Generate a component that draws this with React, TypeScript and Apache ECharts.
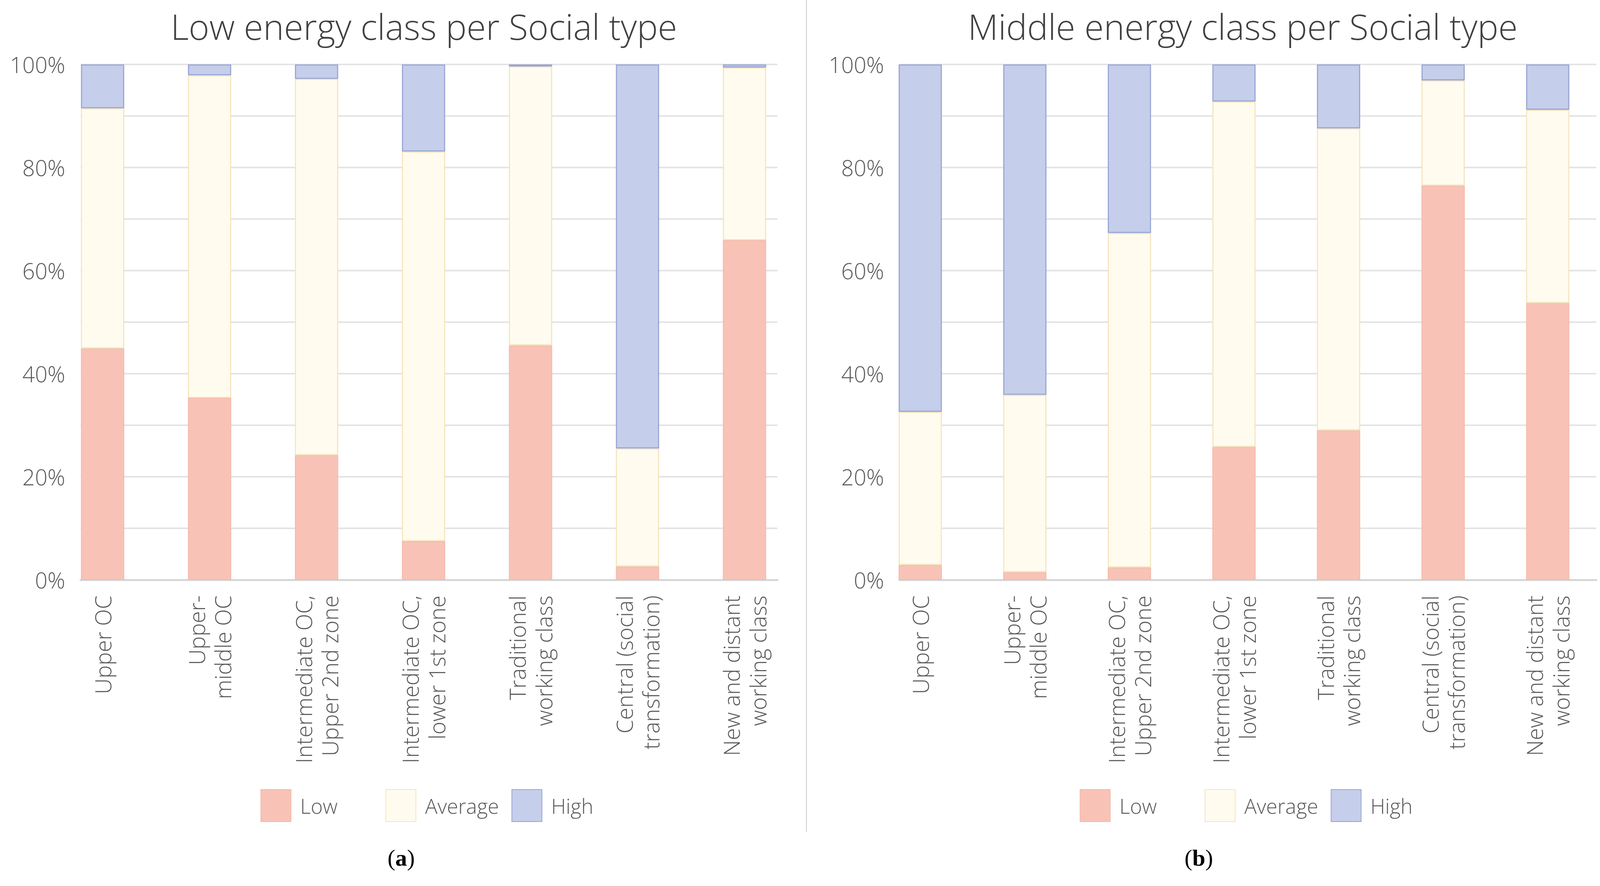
import React, { useEffect, useRef } from "react";
import * as echarts from "echarts";

const categories = [
  "Upper OC",
  "Upper-\nmiddle OC",
  "Intermediate OC,\nUpper 2nd zone",
  "Intermediate OC,\nlower 1st zone",
  "Traditional\nworking class",
  "Central (social\ntransformation)",
  "New and distant\nworking class",
];

const seriesNames = ["Low", "Average", "High"];

const lowA = [44.9, 35.3, 24.2, 7.5, 45.5, 2.6, 65.9];
const avgA = [46.6, 62.6, 73.0, 75.6, 54.1, 22.9, 33.5];
const highA = [8.5, 2.1, 2.8, 16.9, 0.4, 74.5, 0.6];

const lowB = [2.9, 1.5, 2.4, 25.8, 29.0, 76.5, 53.7];
const avgB = [29.7, 34.4, 64.9, 67.0, 58.6, 20.4, 37.5];
const highB = [67.4, 64.1, 32.7, 7.2, 12.4, 3.1, 8.8];

const titles = ["Low energy class per Social type", "Middle energy class per Social type"];
const captions = ["a", "b"];
const yTicks = [0, 20, 40, 60, 80, 100];

const W = 4367;
const H = 2269;
const FONT = "'Open Sans', 'Noto Sans', sans-serif";
const SERIF = "'Liberation Serif', 'DejaVu Serif', serif";
const LABEL = "#595959";

export default function App() {
  const ref = useRef<HTMLDivElement>(null);
  useEffect(() => {
    document.body.style.margin = "0";
    document.body.style.overflow = "hidden";
    const el = ref.current!;
    const sx = el.clientWidth / W || 1;
    const sy = el.clientHeight / H || 1;
    const X = (v: number) => v * sx;
    const Y = (v: number) => v * sy;
    const F = (v: number) => v * Math.min(sx, sy);
    const chart = echarts.init(el, null, { renderer: "svg" });
    const styles = [
      { color: "#F8C3B6", borderColor: "#F4B7A9", borderWidth: F(2) },
      { color: "#FFFCEF", borderColor: "#F5E4BE", borderWidth: F(3) },
      { color: "#C5CEEA", borderColor: "#98A5D6", borderWidth: F(3) },
    ];
    const off = 2235;
    const top = 165;
    const height = 1320;
    const panels = [
      { low: lowA, avg: avgA, high: highA },
      { low: lowB, avg: avgB, high: highB },
    ];
    const grids: any[] = [];
    const xAxes: any[] = [];
    const yAxes: any[] = [];
    const series: any[] = [];
    const legends: any[] = [];
    const titleOpts: any[] = [];
    panels.forEach((d, k) => {
      const dx = k * off;
      grids.push({ left: X(220 + dx), top: Y(top), width: X(1902), height: Y(height) });
      grids.push({ left: X(134 + dx), top: Y(top), width: X(2044), height: Y(height) });
      const bg = k * 2;
      const bar = k * 2 + 1;
      xAxes.push({
        gridIndex: bg,
        type: "value",
        min: 0,
        max: 1,
        axisLine: { show: true, lineStyle: { color: "#D6D6D6", width: Y(5) } },
        axisTick: { show: false },
        axisLabel: { show: false },
        splitLine: { show: false },
      });
      xAxes.push({
        gridIndex: bar,
        type: "category",
        data: categories,
        axisLine: { show: false },
        axisTick: { show: false },
        axisLabel: {
          rotate: 90,
          margin: Y(40),
          fontSize: F(60),
          lineHeight: X(72),
          color: LABEL,
          fontFamily: FONT,
          fontWeight: 300,
          interval: 0,
        },
      });
      yAxes.push({
        gridIndex: bg,
        type: "value",
        min: 0,
        max: 100,
        interval: 10,
        axisLine: { show: false },
        axisTick: { show: false },
        splitLine: { show: true, lineStyle: { color: "#E4E4E4", width: Y(4) } },
        axisLabel: {
          margin: X(42),
          fontSize: F(60),
          color: LABEL,
          fontFamily: FONT,
          fontWeight: 300,
          padding: [0, 0, Y(24), 0],
          formatter: (v: number) => (yTicks.indexOf(v) >= 0 ? v + "%" : ""),
        },
      });
      yAxes.push({ gridIndex: bar, type: "value", min: 0, max: 100, show: false });
      [d.low, d.avg, d.high].forEach((vals, i) => {
        series.push({
          type: "bar",
          name: seriesNames[i],
          stack: "s" + k,
          xAxisIndex: bar,
          yAxisIndex: bar,
          barWidth: X(118),
          data: vals,
          itemStyle: styles[i],
        });
      });
      const legLeft = [711, 1052, 1396];
      seriesNames.forEach((n, i) => {
        legends.push({
          data: [n],
          left: X(legLeft[i] + k * 2236),
          top: Y(2021),
          padding: 0,
          icon: "rect",
          itemWidth: X(82),
          itemHeight: Y(82),
          selectedMode: false,
          textStyle: {
            fontSize: F(56),
            color: LABEL,
            fontFamily: FONT,
            fontWeight: 300,
            padding: [0, 0, 0, X(20)],
          },
        });
      });
      titleOpts.push({
        text: titles[k],
        left: X(1157 + dx),
        top: Y(22),
        padding: 0,
        textAlign: "center",
        textStyle: { fontSize: F(96), color: "#404040", fontFamily: FONT, fontWeight: 300 },
      });
    });
    const captionX = [1095, 3272];
    const graphic: any[] = [
      {
        type: "line",
        shape: { x1: X(2201), y1: 0, x2: X(2201), y2: Y(2130) },
        style: { stroke: "#DADADA", lineWidth: X(3) },
      },
    ];
    captions.forEach((c, i) => {
      graphic.push({
        type: "text",
        x: X(captionX[i]),
        y: Y(2197),
        style: {
          text: "{n|(}{b|" + c + "}{n|)}",
          align: "center",
          verticalAlign: "middle",
          rich: {
            n: { fontSize: F(64), fontFamily: SERIF, fill: "#000" },
            b: { fontSize: F(64), fontFamily: SERIF, fontWeight: "bold", fill: "#000" },
          },
        },
      });
    });
    chart.setOption({
      animation: false,
      backgroundColor: "#ffffff",
      title: titleOpts,
      legend: legends,
      grid: grids,
      xAxis: xAxes,
      yAxis: yAxes,
      series,
      graphic,
    });
    return () => chart.dispose();
  }, []);
  return (
    <div
      ref={ref}
      style={{ position: "fixed", left: 0, top: 0, width: "100vw", height: "100vh", background: "#fff" }}
    />
  );
}
